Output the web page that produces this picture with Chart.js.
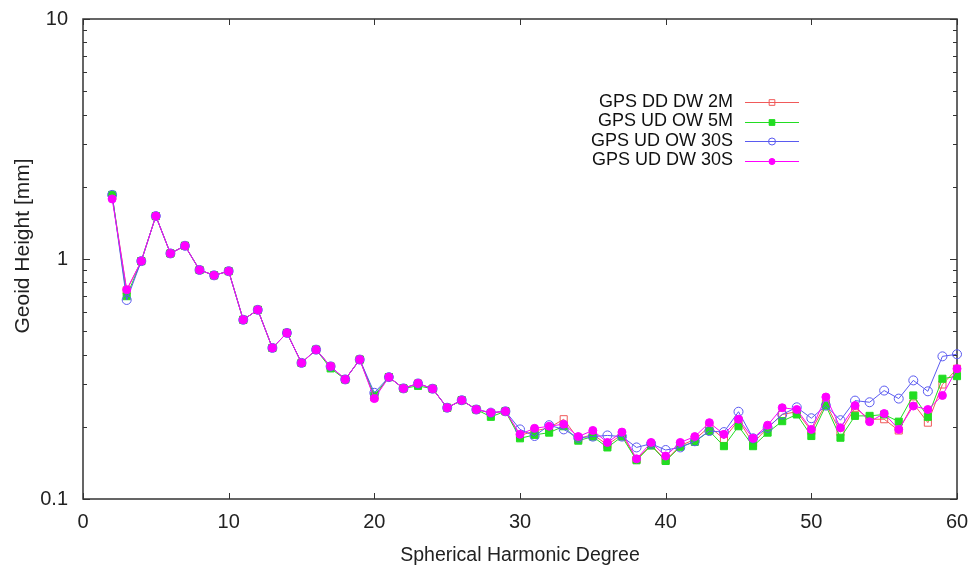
<!DOCTYPE html>
<html>
<head>
<meta charset="utf-8">
<script src="https://cdn.jsdelivr.net/npm/chart.js@4/dist/chart.umd.min.js"></script>
<style>
  html, body { margin: 0; padding: 0; background: #fff; }
  #wrap { width: 971px; height: 567px; position: relative; }
</style>
</head>
<body>
<div id="wrap"><canvas id="chart" width="971" height="567"></canvas></div>
<script>
// spherical harmonic degrees 2..60
const degrees = [2,3,4,5,6,7,8,9,10,11,12,13,14,15,16,17,18,19,20,21,22,23,24,25,26,27,28,29,30,
  31,32,33,34,35,36,37,38,39,40,41,42,43,44,45,46,47,48,49,50,51,52,53,54,55,56,57,58,59,60];

const ddDw2M = [1.83,0.74,0.98,1.51,1.055,1.135,0.90,0.855,0.89,0.558,0.614,0.426,0.492,0.369,0.419,0.357,0.315,0.381,0.265,0.322,
  0.289,0.303,0.288,0.240,0.258,0.236,0.228,0.232,0.184,0.192,0.198,0.215,0.178,0.186,0.168,0.186,0.146,0.168,0.145,0.167,
  0.177,0.200,0.178,0.213,0.171,0.198,0.225,0.231,0.192,0.250,0.190,0.240,0.215,0.215,0.193,0.250,0.208,0.300,0.349];
const udOw5M = [1.85,0.70,0.98,1.51,1.055,1.135,0.90,0.855,0.89,0.558,0.614,0.426,0.492,0.369,0.419,0.350,0.315,0.381,0.270,0.322,
  0.289,0.296,0.288,0.240,0.258,0.236,0.220,0.232,0.179,0.185,0.189,0.201,0.175,0.182,0.164,0.182,0.145,0.167,0.144,0.165,
  0.173,0.192,0.166,0.201,0.166,0.189,0.211,0.225,0.183,0.245,0.180,0.222,0.222,0.225,0.210,0.270,0.220,0.317,0.325];
const udOw30S = [1.85,0.675,0.98,1.51,1.055,1.135,0.90,0.855,0.89,0.558,0.614,0.426,0.492,0.369,0.419,0.357,0.315,0.381,0.277,0.322,
  0.289,0.303,0.288,0.240,0.258,0.236,0.229,0.232,0.195,0.183,0.203,0.195,0.180,0.182,0.184,0.182,0.164,0.170,0.160,0.164,
  0.174,0.192,0.190,0.231,0.179,0.198,0.225,0.241,0.217,0.245,0.213,0.257,0.253,0.283,0.262,0.312,0.281,0.393,0.401];
const udDw30S = [1.78,0.745,0.98,1.51,1.055,1.135,0.90,0.855,0.89,0.558,0.614,0.426,0.492,0.369,0.419,0.357,0.315,0.381,0.262,0.322,
  0.289,0.303,0.288,0.240,0.258,0.236,0.229,0.232,0.186,0.197,0.201,0.205,0.182,0.193,0.172,0.190,0.147,0.172,0.151,0.172,
  0.182,0.208,0.186,0.215,0.179,0.203,0.240,0.236,0.195,0.266,0.198,0.245,0.210,0.227,0.195,0.244,0.236,0.270,0.349];

const seriesNames = ['GPS DD DW 2M', 'GPS UD OW 5M', 'GPS UD OW 30S', 'GPS UD DW 30S'];
const xTicks = [0, 10, 20, 30, 40, 50, 60];
const yTicks = [0.1, 1, 10];
const yMinorTicks = [0.2,0.3,0.4,0.5,0.6,0.7,0.8,0.9,2,3,4,5,6,7,8,9];

const FONT = "'Liberation Sans', Arial, Helvetica, sans-serif";

function pts(vals) {
    return vals.map((v, i) => ({ x: degrees[i], y: v }));
}

const styles = [
    { color: '#f05a5a', pointStyle: 'rect', radius: 5, fill: 'rgba(0,0,0,0)', order: 4 },
    { color: '#22dd22', pointStyle: 'rect', radius: 5, fill: '#22dd22', order: 3 },
    { color: '#5a5af0', pointStyle: 'circle', radius: 4.5, fill: 'rgba(0,0,0,0)', order: 2 },
    { color: '#ff00ff', pointStyle: 'circle', radius: 4, fill: '#ff00ff', order: 1 }
];
const allSeries = [ddDw2M, udOw5M, udOw30S, udDw30S];

// border, inward ticks, y title, legend (gnuplot look)
const framePlugin = {
    id: 'frame',
    beforeDatasetsDraw(chart) {
        const { ctx, chartArea: a, scales } = chart;
        ctx.save();
        ctx.strokeStyle = '#333';
        ctx.lineWidth = 1.5;
        ctx.strokeRect(a.left, a.top, a.right - a.left, a.bottom - a.top);
        ctx.lineWidth = 1;
        ctx.beginPath();
        xTicks.forEach(v => {
            const x = Math.round(scales.x.getPixelForValue(v)) + 0.5;
            ctx.moveTo(x, a.bottom); ctx.lineTo(x, a.bottom - 6);
            ctx.moveTo(x, a.top); ctx.lineTo(x, a.top + 6);
        });
        yTicks.forEach(v => {
            const y = Math.round(scales.y.getPixelForValue(v)) + 0.5;
            ctx.moveTo(a.left, y); ctx.lineTo(a.left + 7, y);
            ctx.moveTo(a.right, y); ctx.lineTo(a.right - 7, y);
        });
        yMinorTicks.forEach(v => {
            const y = Math.round(scales.y.getPixelForValue(v)) + 0.5;
            ctx.moveTo(a.left, y); ctx.lineTo(a.left + 4, y);
            ctx.moveTo(a.right, y); ctx.lineTo(a.right - 4, y);
        });
        ctx.stroke();

        // y axis title
        ctx.fillStyle = '#222';
        ctx.font = '21px ' + FONT;
        ctx.textAlign = 'center';
        ctx.textBaseline = 'middle';
        ctx.translate(23, 246);
        ctx.rotate(-Math.PI / 2);
        ctx.fillText('Geoid Height [mm]', 0, 0);
        ctx.restore();
    },
    afterDraw(chart) {
        const ctx = chart.ctx;
        ctx.save();
        ctx.font = '18px ' + FONT;
        ctx.textAlign = 'right';
        ctx.textBaseline = 'middle';
        chart.data.datasets.forEach((ds, i) => {
            const y = 102 + i * 19.5;
            ctx.fillStyle = '#111';
            ctx.fillText(ds.label, 733, y);
            ctx.strokeStyle = ds.borderColor;
            ctx.lineWidth = 1;
            ctx.beginPath();
            ctx.moveTo(745, Math.round(y) + 0.5);
            ctx.lineTo(799, Math.round(y) + 0.5);
            ctx.stroke();
            ctx.fillStyle = ds.pointBackgroundColor;
            ctx.strokeStyle = ds.borderColor;
            Chart.helpers.drawPoint(ctx, {
                pointStyle: ds.pointStyle, radius: ds.pointRadius - 1,
                borderWidth: 1, rotation: 0
            }, 772, Math.round(y) + 0.5);
            if (ds.pointBackgroundColor !== 'rgba(0,0,0,0)') ctx.fill();
        });
        ctx.restore();
    }
};

const ctx = document.getElementById('chart').getContext('2d');
new Chart(ctx, {
    type: 'line',
    data: {
        datasets: allSeries.map((vals, i) => ({
            label: seriesNames[i],
            data: pts(vals),
            borderColor: styles[i].color,
            backgroundColor: styles[i].fill,
            pointBackgroundColor: styles[i].fill,
            pointBorderColor: styles[i].color,
            pointStyle: styles[i].pointStyle,
            pointRadius: styles[i].radius,
            pointBorderWidth: 1,
            borderWidth: 1,
            tension: 0,
            fill: false,
            clip: false,
            order: styles[i].order
        }))
    },
    options: {
        responsive: false,
        animation: false,
        events: [],
        layout: { padding: { top: 19, right: 14, left: 0, bottom: 0 } },
        plugins: {
            legend: { display: false },
            tooltip: { enabled: false }
        },
        scales: {
            x: {
                type: 'linear',
                min: 0, max: 60,
                grid: { display: false, drawTicks: false },
                border: { display: false },
                afterBuildTicks: s => { s.ticks = xTicks.map(v => ({ value: v })); },
                afterFit: s => { s.height = 68; s.paddingLeft = 0; s.paddingRight = 0; },
                ticks: {
                    color: '#222',
                    font: { family: FONT, size: 20 },
                    padding: 11,
                    maxRotation: 0,
                    callback: v => String(v)
                },
                title: {
                    display: true,
                    text: 'Spherical Harmonic Degree',
                    color: '#222',
                    font: { family: FONT, size: 19.5 },
                    padding: { top: 0, bottom: 0 }
                }
            },
            y: {
                type: 'logarithmic',
                min: 0.1, max: 10,
                grid: { display: false, drawTicks: false },
                border: { display: false },
                afterBuildTicks: s => { s.ticks = yTicks.map(v => ({ value: v })); },
                afterFit: s => { s.width = 83; s.paddingTop = 0; s.paddingBottom = 0; },
                ticks: {
                    color: '#222',
                    font: { family: FONT, size: 20 },
                    padding: 15,
                    callback: v => String(v)
                },
                title: { display: false }
            }
        }
    },
    plugins: [framePlugin]
});
</script>
</body>
</html>
